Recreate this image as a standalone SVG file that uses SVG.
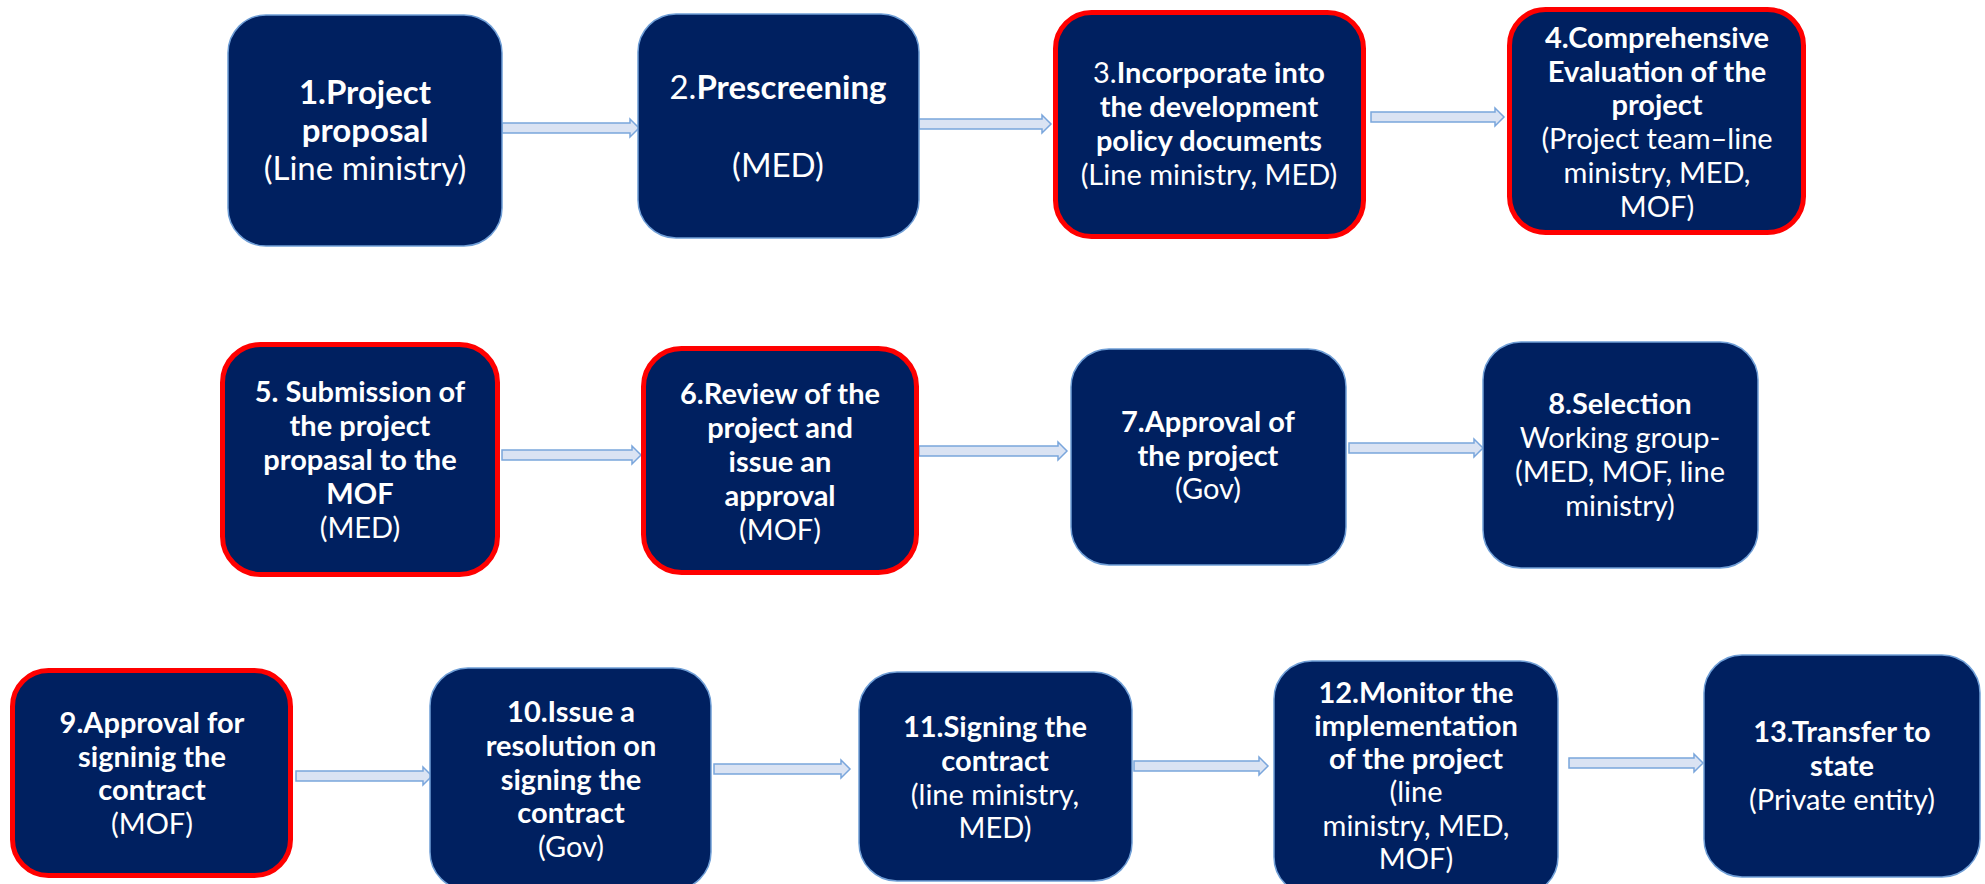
<svg xmlns="http://www.w3.org/2000/svg" width="1985" height="884" viewBox="0 0 1985 884">
<defs>
<style>
.box{fill:#002060;stroke:#6f9ed6;stroke-width:1.5}
.red{fill:#002060;stroke:#ff0000;stroke-width:5}
.arr{fill:#dae3f3;stroke:#7aa6dc;stroke-width:1.5}
text{font-family:Lato,"Open Sans","Liberation Sans",sans-serif;fill:#ffffff;text-anchor:middle}
.b{font-weight:bold}
.r{font-weight:normal}
.f32{font-size:33px}
.f28{font-size:29px}
</style>
</defs>
<rect width="1985" height="884" fill="#ffffff"/>
<g id="connectors">
<path class="arr" d="M502,123 H630 V119 L639,128 L630,137 V133 H502 Z"/>
<path class="arr" d="M919,119 H1042 V115 L1051,124 L1042,133 V129 H919 Z"/>
<path class="arr" d="M1371,112 H1495 V108 L1504,117 L1495,126 V122 H1371 Z"/>
<path class="arr" d="M502,450 H632 V446 L641,455 L632,464 V460 H502 Z"/>
<path class="arr" d="M919,446 H1058 V442 L1067,451 L1058,460 V456 H919 Z"/>
<path class="arr" d="M1349,443 H1474 V439 L1483,448 L1474,457 V453 H1349 Z"/>
<path class="arr" d="M296,771 H423 V767 L432,776 L423,785 V781 H296 Z"/>
<path class="arr" d="M714,764 H841 V760 L850,769 L841,778 V774 H714 Z"/>
<path class="arr" d="M1134,761 H1259 V757 L1268,766 L1259,775 V771 H1134 Z"/>
<path class="arr" d="M1569,758 H1694 V754 L1703,763 L1694,772 V768 H1569 Z"/>
</g>
<g id="n1">
<rect class="box" x="228" y="15" width="274" height="231" rx="38"/>
<text class="f32"><tspan x="365" y="104" class="b">1.Project</tspan><tspan x="365" y="142" class="b">proposal</tspan><tspan x="365" y="180" class="r">(Line ministry)</tspan></text>
</g>
<g id="n2">
<rect class="box" x="638" y="14" width="281" height="224" rx="38"/>
<text class="f32"><tspan x="778" y="99"><tspan class="r">2.</tspan><tspan class="b">Prescreening</tspan></tspan><tspan x="778" y="177" class="r">(MED)</tspan></text>
</g>
<g id="n3">
<rect class="red" x="1055.5" y="12.5" width="308" height="224" rx="36"/>
<text class="f28"><tspan x="1209" y="83"><tspan class="r">3.</tspan><tspan class="b">Incorporate into</tspan></tspan><tspan x="1209" y="117" class="b">the development</tspan><tspan x="1209" y="151" class="b">policy documents</tspan><tspan x="1209" y="185" class="r">(Line ministry, MED)</tspan></text>
</g>
<g id="n4">
<rect class="red" x="1509.5" y="9.5" width="294" height="223" rx="36"/>
<text class="f28"><tspan x="1657" y="48" class="b">4.Comprehensive</tspan><tspan x="1657" y="82" class="b">Evaluation of the</tspan><tspan x="1657" y="115" class="b">project</tspan><tspan x="1657" y="149" class="r">(Project team–line</tspan><tspan x="1657" y="183" class="r">ministry, MED,</tspan><tspan x="1657" y="217" class="r">MOF)</tspan></text>
</g>
<g id="n5">
<rect class="red" x="222.5" y="344.5" width="275" height="230" rx="38"/>
<text class="f28"><tspan x="360" y="402" class="b">5. Submission of</tspan><tspan x="360" y="436" class="b">the project</tspan><tspan x="360" y="470" class="b">propasal to the</tspan><tspan x="360" y="504" class="b">MOF</tspan><tspan x="360" y="538" class="r">(MED)</tspan></text>
</g>
<g id="n6">
<rect class="red" x="643.5" y="348.5" width="273" height="224" rx="38"/>
<text class="f28"><tspan x="780" y="404" class="b">6.Review of the</tspan><tspan x="780" y="438" class="b">project and</tspan><tspan x="780" y="472" class="b">issue an</tspan><tspan x="780" y="506" class="b">approval</tspan><tspan x="780" y="540" class="r">(MOF)</tspan></text>
</g>
<g id="n7">
<rect class="box" x="1071" y="349" width="275" height="216" rx="38"/>
<text class="f28"><tspan x="1208" y="432" class="b">7.Approval of</tspan><tspan x="1208" y="466" class="b">the project</tspan><tspan x="1208" y="499" class="r">(Gov)</tspan></text>
</g>
<g id="n8">
<rect class="box" x="1483" y="342" width="275" height="226" rx="38"/>
<text class="f28"><tspan x="1620" y="414" class="b">8.Selection</tspan><tspan x="1620" y="448" class="r">Working group-</tspan><tspan x="1620" y="482" class="r">(MED, MOF, line</tspan><tspan x="1620" y="516" class="r">ministry)</tspan></text>
</g>
<g id="n9">
<rect class="red" x="12.5" y="670.5" width="278" height="205" rx="36"/>
<text class="f28"><tspan x="152" y="733" class="b">9.Approval for</tspan><tspan x="152" y="767" class="b">signinig the</tspan><tspan x="152" y="800" class="b">contract</tspan><tspan x="152" y="834" class="r">(MOF)</tspan></text>
</g>
<g id="n10">
<rect class="box" x="430" y="668" width="281" height="222" rx="38"/>
<text class="f28"><tspan x="571" y="722" class="b">10.Issue a</tspan><tspan x="571" y="756" class="b">resolution on</tspan><tspan x="571" y="790" class="b">signing the</tspan><tspan x="571" y="823" class="b">contract</tspan><tspan x="571" y="857" class="r">(Gov)</tspan></text>
</g>
<g id="n11">
<rect class="box" x="859" y="672" width="273" height="209" rx="38"/>
<text class="f28"><tspan x="995" y="737" class="b">11.Signing the</tspan><tspan x="995" y="771" class="b">contract</tspan><tspan x="995" y="805" class="r">(line ministry,</tspan><tspan x="995" y="838" class="r">MED)</tspan></text>
</g>
<g id="n12">
<rect class="box" x="1274" y="661" width="284" height="234" rx="38"/>
<text class="f28"><tspan x="1416" y="703" class="b">12.Monitor the</tspan><tspan x="1416" y="736" class="b">implementation</tspan><tspan x="1416" y="769" class="b">of the project</tspan><tspan x="1416" y="802" class="r">(line</tspan><tspan x="1416" y="836" class="r">ministry, MED,</tspan><tspan x="1416" y="869" class="r">MOF)</tspan></text>
</g>
<g id="n13">
<rect class="box" x="1704" y="655" width="276" height="222" rx="38"/>
<text class="f28"><tspan x="1842" y="742" class="b">13.Transfer to</tspan><tspan x="1842" y="776" class="b">state</tspan><tspan x="1842" y="810" class="r">(Private entity)</tspan></text>
</g>
</svg>
